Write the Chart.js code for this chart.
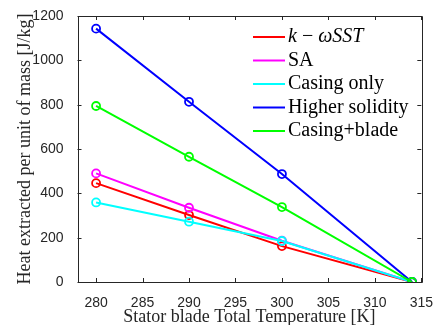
<!DOCTYPE html>
<html>
<head>
<meta charset="utf-8">
<script src="https://cdn.jsdelivr.net/npm/chart.js@4.4.0/dist/chart.umd.min.js"></script>
<style>
  html, body { margin: 0; padding: 0; background: #fff; }
  #wrap { width: 438px; height: 325px; }
</style>
</head>
<body>
<div id="wrap"><canvas id="heat" width="438" height="325"></canvas></div>
<script>
'use strict';

// temperatures on the x axis
var temps = [280, 290, 300, 314];

// heat extracted per unit of mass, one array per case
var kw_sst   = [446, 302, 162, 0];
var sa       = [490, 335, 186, 0];
var casing   = [359, 272, 185, 0];
var solidity = [1143, 813, 487, 0];
var casBlade = [794, 565, 338, 0];

var seriesNames  = ['k-wSST', 'SA', 'Casing only', 'Higher solidity', 'Casing+blade'];
var seriesValues = [kw_sst, sa, casing, solidity, casBlade];
var seriesColors = ['#ff0000', '#ff00ff', '#00ffff', '#0000ff', '#00ff00'];

// tick labels
var xTicks = [280, 285, 290, 295, 300, 305, 310, 315];
var yTicks = [0, 200, 400, 600, 800, 1000, 1200];

var axisColor = '#262626';
var serif = '"Liberation Serif", "DejaVu Serif", serif';
var sans = '"Liberation Sans", Arial, sans-serif';

function points(vals) {
	var out = [];
	for (var i = 0; i < temps.length; i++) {
		out.push({ x: temps[i], y: vals[i] });
	}
	return out;
}

var datasets = [];
for (var i = 0; i < seriesNames.length; i++) {
	datasets.push({
		label: seriesNames[i],
		data: points(seriesValues[i]),
		borderColor: seriesColors[i],
		backgroundColor: 'rgba(0,0,0,0)',
		pointBorderColor: seriesColors[i],
		pointBackgroundColor: 'rgba(0,0,0,0)',
		pointRadius: 4,
		pointBorderWidth: 1.8,
		borderWidth: 2,
		showLine: true,
		order: seriesNames.length - i   // last one on top, like matlab
	});
}

// box + inward ticks on all four sides
var boxPlugin = {
	id: 'box',
	afterDraw: function(chart) {
		var ctx = chart.ctx;
		var a = chart.chartArea;
		var xs = chart.scales.x, ys = chart.scales.y;
		ctx.save();
		ctx.strokeStyle = axisColor;
		ctx.lineWidth = 1;
		ctx.beginPath();
		ctx.rect(Math.round(a.left) + 0.5, Math.round(a.top) + 0.5,
			Math.round(a.right - a.left), Math.round(a.bottom - a.top));
		xTicks.forEach(function(v) {
			var px = Math.round(xs.getPixelForValue(v)) + 0.5;
			ctx.moveTo(px, a.bottom); ctx.lineTo(px, a.bottom - 4);
			ctx.moveTo(px, a.top); ctx.lineTo(px, a.top + 4);
		});
		yTicks.forEach(function(v) {
			var py = Math.round(ys.getPixelForValue(v)) + 0.5;
			ctx.moveTo(a.left, py); ctx.lineTo(a.left + 4, py);
			ctx.moveTo(a.right, py); ctx.lineTo(a.right - 4, py);
		});
		ctx.stroke();
		ctx.restore();
	}
};

// legend inside the plot, no frame
var legendPlugin = {
	id: 'inLegend',
	afterDraw: function(chart) {
		var ctx = chart.ctx;
		var x0 = 253, x1 = 285, tx = 288, y0 = 37, dy = 23.5;
		ctx.save();
		ctx.textBaseline = 'middle';
		ctx.fillStyle = '#000';
		for (var i = 0; i < seriesNames.length; i++) {
			var y = y0 + i * dy;
			ctx.strokeStyle = seriesColors[i];
			ctx.lineWidth = 2;
			ctx.beginPath();
			ctx.moveTo(x0, y); ctx.lineTo(x1, y);
			ctx.stroke();
			if (i === 0) {
				// k − ωSST in math italic
				var x = tx;
				ctx.font = 'italic 20px ' + serif;
				ctx.fillText('k', x, y); x += ctx.measureText('k').width;
				ctx.font = '20px ' + serif;
				ctx.fillText(' \u2212 ', x, y); x += ctx.measureText(' \u2212 ').width;
				ctx.font = 'italic 20px ' + serif;
				ctx.fillText('\u03c9SST', x, y);
			} else {
				ctx.font = '20px ' + serif;
				ctx.fillText(seriesNames[i], tx, y);
			}
		}
		ctx.restore();
	}
};

var ctx = document.getElementById('heat');
var chart = new Chart(ctx, {
	type: 'scatter',
	data: { datasets: datasets },
	options: {
		responsive: false,
		animation: false,
		layout: { padding: { left: 14, right: 15, top: 16, bottom: 0 } },
		plugins: {
			legend: { display: false },
			tooltip: { enabled: false }
		},
		scales: {
			x: {
				type: 'linear',
				min: 278, max: 315,
				grid: { display: false },
				border: { display: false },
				ticks: {
					stepSize: 5, includeBounds: false, padding: 5,
					color: axisColor,
					font: { family: sans, size: 14 },
					callback: function(v) { return String(v); }
				},
				title: {
					display: true,
					text: 'Stator blade Total Temperature [K]',
					color: axisColor,
					font: { family: serif, size: 18 },
					padding: { top: 0, bottom: -3 }
				},
				afterFit: function(s) { s.height = 43; }
			},
			y: {
				min: 0, max: 1200,
				grid: { display: false },
				border: { display: false },
				ticks: {
					stepSize: 200, padding: 6,
					color: axisColor,
					font: { family: sans, size: 14 },
					callback: function(v) { return String(v); }
				},
				title: {
					display: true,
					text: 'Heat extracted per unit of mass [J/kg]',
					color: axisColor,
					font: { family: serif, size: 18 },
					padding: { top: 0, bottom: 0 }
				},
				afterFit: function(s) { s.width = 63.5; }
			}
		}
	},
	plugins: [boxPlugin, legendPlugin]
});
</script>
</body>
</html>
